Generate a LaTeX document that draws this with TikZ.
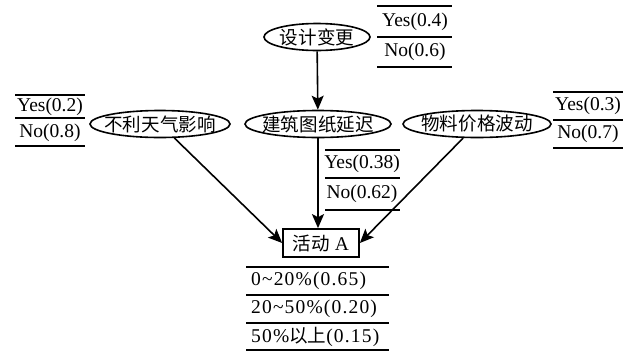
\documentclass[tikz,border=0pt]{standalone}
\usepackage{fontspec}
\setmainfont{Liberation Serif}
\newfontfamily\cjk[Scale=0.95]{Noto Sans CJK SC}
\newfontfamily\widefont[LetterSpace=6]{Liberation Serif}
\usetikzlibrary{shapes.geometric,arrows.meta}
\newcommand{\zw}[1]{\makebox[0pt]{#1}}
\begin{document}
\begin{tikzpicture}[x=1pt,y=-1pt,
  every node/.style={font=\fontsize{19.5}{21}\selectfont, inner sep=0pt},
  evt/.style={ellipse, draw, line width=1.6pt, minimum height=27pt},
  act/.style={draw, line width=1.7pt, minimum width=76pt, minimum height=28pt},
  lbl/.style={anchor=center},
  rule/.style={line width=2pt},
  arr/.style={line width=1.6pt, -{Stealth[length=14pt,width=12pt,inset=3pt]}}]
\useasboundingbox (0,0) rectangle (635,354);
% events
\node[evt, minimum width=106pt] (sj) at (317,37) {\zw{\cjk 设计变更}};
\node[evt, minimum width=146pt] (jz) at (318,124) {\zw{\cjk 建筑图纸延迟}};
\node[evt, minimum width=140pt] (bl) at (160,124) {\zw{\cjk 不利天气影响}};
\node[evt, minimum width=148pt] (wl) at (477,124) {\zw{\cjk 物料价格波动}};
\node[act] (a) at (321,243) {{\cjk 活动} A};
% probability labels
\node[lbl] (sjy) at (415,22) {Yes(0.4)};
\node[lbl] (sjn) at (415,52) {No(0.6)};
\node[lbl] (bly) at (50,107) {Yes(0.2)};
\node[lbl] (bln) at (50,133) {No(0.8)};
\node[lbl] (wly) at (588,106) {Yes(0.3)};
\node[lbl] (wln) at (588,134) {No(0.7)};
\node[lbl] (jzy) at (362,164) {Yes(0.38)};
\node[lbl] (jzn) at (362,194) {No(0.62)};
\node[anchor=west] (a1) at (251,281) {\widefont 0\char`~20\%(0.65)};
\node[anchor=west] (a2) at (251,309) {\widefont 20\char`~50\%(0.20)};
\node[anchor=west] (a3) at (251,337) {\widefont 50\%{\cjk 以上}(0.15)};
% rules
\foreach \y in {6,37,67} \draw[rule] (377,\y) -- (452,\y);
\foreach \y in {95,118,146} \draw[rule] (15,\y) -- (85,\y);
\foreach \y in {92,120,148} \draw[rule] (553,\y) -- (623,\y);
\foreach \y in {150,178,210} \draw[rule] (325,\y) -- (400,\y);
\foreach \y in {267,295,323,350} \draw[rule] (246,\y) -- (389,\y);
% connectors
\draw[arr] (sj) -- (jz);
\draw[arr] (jz.south) -- (jz.south |- a.north);
\draw[arr] (bl) -- (a.west);
\draw[arr] (wl) -- (a.east);
\end{tikzpicture}
\end{document}
